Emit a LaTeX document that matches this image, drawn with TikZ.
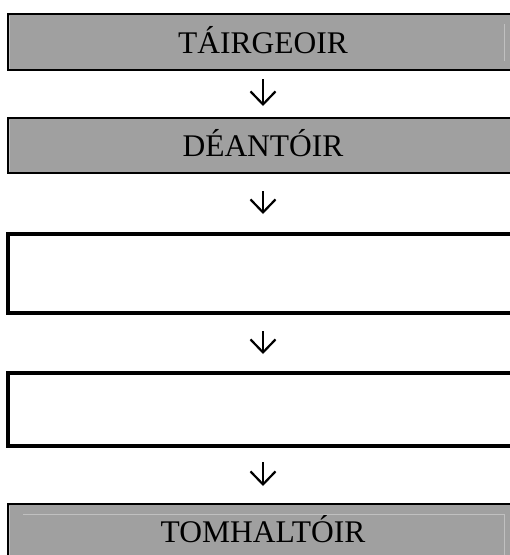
\documentclass[tikz,border=0pt]{standalone}
\usepackage{fontspec}
\setmainfont{Liberation Serif}
\usetikzlibrary{arrows.meta}
\definecolor{boxgray}{RGB}{160,160,160}
\definecolor{cellgray}{RGB}{192,192,192}
\begin{document}
\begin{tikzpicture}[x=1pt,y=1pt,
  graybox/.style={draw=black, line width=2pt, fill=boxgray, minimum width=560pt,
    inner sep=0pt, outer sep=0pt, anchor=west},
  whitebox/.style={draw=black, line width=4pt, fill=white, minimum width=560pt,
    inner sep=0pt, outer sep=0pt, anchor=west},
  boxtext/.style={inner sep=0pt, font=\fontsize{31.5}{31.5}\selectfont,
    text height=20.8pt, text depth=0pt},
  flowarrow/.style={line width=2.2pt, -{Straight Barb[length=13pt,width=25pt,line width=2.2pt]}},
  cellline/.style={draw=cellgray, line width=1pt}]
\useasboundingbox (0,0) rectangle (510,-555);
\node[graybox, minimum height=56pt] (b1) at (8,-42) {};
\node[graybox, minimum height=55pt] (b2) at (8,-145.5) {};
\node[whitebox, minimum height=79pt] (b3) at (8,-273.5) {};
\node[whitebox, minimum height=73pt] (b4) at (8,-409.5) {};
\node[graybox, minimum height=56pt] (b5) at (8,-532) {};
\node[boxtext] (t1) at (263,-43.5) {TÁIRGEOIR};
\node[boxtext] (t2) at (263,-146) {DÉANTÓIR};
\node[boxtext] (t5) at (263,-532.5) {TOMHALTÓIR};
% faint cell lines
\draw[cellline] (504,-24) -- (504,-61);
\draw[cellline] (9.5,-15.5) -- (9.5,-68.5);
\draw[cellline] (9.5,-119.5) -- (9.5,-171.5);
\draw[cellline] (23,-514) -- (504,-514) -- (504,-560);
\draw[cellline] (9.5,-505.5) -- (9.5,-560);
% arrows
\coordinate (a1s) at (263,-70);
\draw[flowarrow, shorten <=9pt, shorten >=12pt] (b1.south -| t1) -- (b2.north -| t1);
\draw[flowarrow, shorten <=18pt, shorten >=20pt] (b2.south -| t1) -- (b3.north -| t1);
\draw[flowarrow, shorten <=18pt, shorten >=19pt] (b3.south -| t1) -- (b4.north -| t1);
\draw[flowarrow, shorten <=16pt, shorten >=18pt] (b4.south -| t1) -- (b5.north -| t1);
\end{tikzpicture}
\end{document}
